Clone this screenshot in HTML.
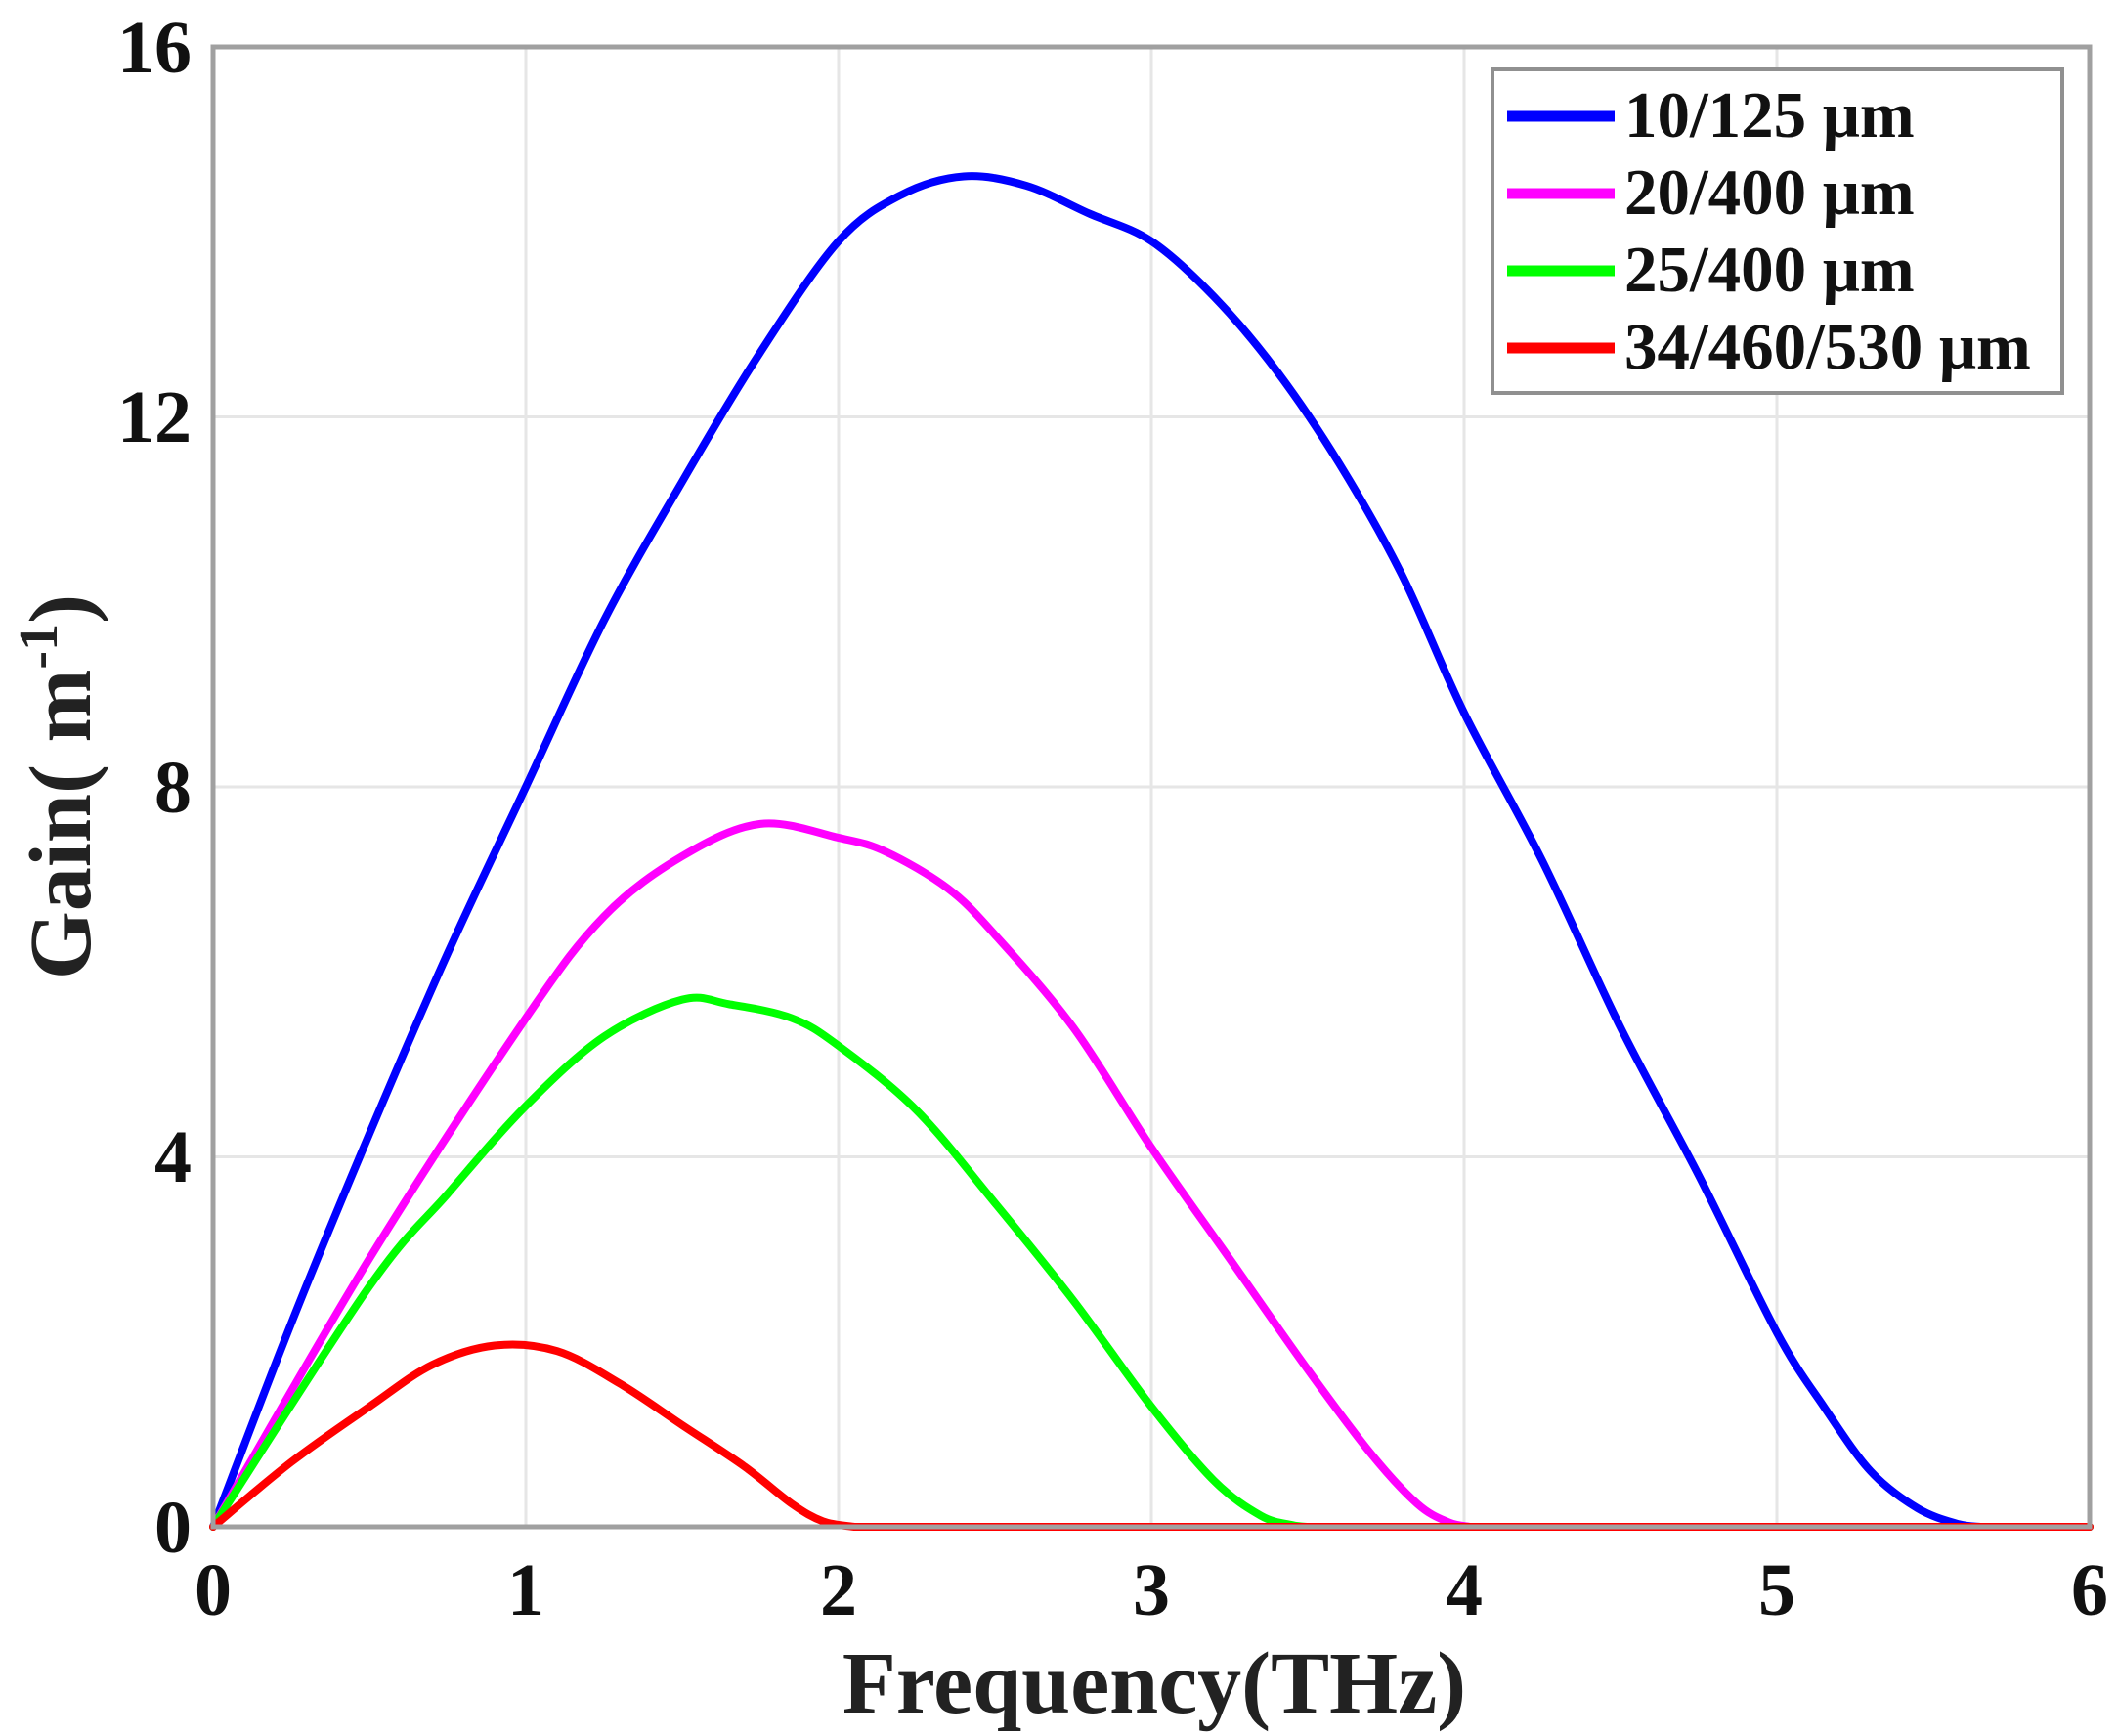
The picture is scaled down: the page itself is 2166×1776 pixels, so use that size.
<!DOCTYPE html>
<html><head><meta charset="utf-8">
<style>html,body{margin:0;padding:0;background:#fff;}svg{display:block;}</style>
</head><body>
<svg id="s" width="2166" height="1776" viewBox="0 0 2166 1776" xmlns="http://www.w3.org/2000/svg" font-family="Liberation Serif, serif">
<rect width="2166" height="1776" fill="#fff"/>
<g stroke="#e6e6e6" stroke-width="3">
<line x1="538" y1="48" x2="538" y2="1562"/><line x1="858" y1="48" x2="858" y2="1562"/>
<line x1="1178" y1="48" x2="1178" y2="1562"/><line x1="1498" y1="48" x2="1498" y2="1562"/>
<line x1="1818" y1="48" x2="1818" y2="1562"/>
<line x1="218" y1="1183.5" x2="2138" y2="1183.5"/><line x1="218" y1="805" x2="2138" y2="805"/>
<line x1="218" y1="426.5" x2="2138" y2="426.5"/>
</g>
<g id="curves" fill="none" stroke-width="8" stroke-linejoin="round" stroke-linecap="round"></g>
<rect x="218" y="48" width="1920" height="1514" fill="none" stroke="#a0a0a0" stroke-width="5"/>
<g font-size="76" font-weight="bold" fill="#111" text-anchor="end">
<text x="196" y="1588">0</text><text x="196" y="1209">4</text><text x="196" y="831">8</text>
<text x="196" y="452">12</text><text x="196" y="74">16</text>
</g>
<g font-size="76" font-weight="bold" fill="#111" text-anchor="middle">
<text x="218" y="1652">0</text><text x="538" y="1652">1</text><text x="858" y="1652">2</text>
<text x="1178" y="1652">3</text><text x="1498" y="1652">4</text><text x="1818" y="1652">5</text><text x="2138" y="1652">6</text>
</g>
<text x="1181" y="1752" font-size="90" font-weight="bold" text-anchor="middle" fill="#222">Frequency(THz)</text>
<text transform="translate(92,805) rotate(-90)" font-size="90" font-weight="bold" text-anchor="middle" fill="#222">Gain( m<tspan font-size="56" dy="-34">-1</tspan><tspan dy="34">)</tspan></text>
<rect x="1527" y="71" width="583" height="331" fill="#fff" stroke="#909090" stroke-width="4"/>
<g stroke-width="11">
<line x1="1542" y1="119" x2="1652" y2="119" stroke="#0000ff"/>
<line x1="1542" y1="198" x2="1652" y2="198" stroke="#ff00ff"/>
<line x1="1542" y1="277" x2="1652" y2="277" stroke="#00ff00"/>
<line x1="1542" y1="356" x2="1652" y2="356" stroke="#ff0000"/>
</g>
<g font-size="67" font-weight="bold" fill="#111">
<text x="1662" y="140">10/125 μm</text>
<text x="1662" y="219">20/400 μm</text>
<text x="1662" y="298">25/400 μm</text>
<text x="1662" y="377">34/460/530 μm</text>
</g>
</svg>
<script>
var X=function(x){return 218+x*320;},Y=function(y){return 1562-y*94.625;};
var series=[
["#0000ff",[[0,0],[0.25,2.2],[0.5,4.25],[0.75,6.2],[1,8],[1.25,9.8],[1.5,11.3],[1.75,12.7],[2,13.9],[2.2,14.4],[2.4,14.6],[2.6,14.5],[2.8,14.2],[3,13.9],[3.2,13.3],[3.4,12.5],[3.6,11.5],[3.8,10.3],[4,8.8],[4.25,7.2],[4.5,5.4],[4.75,3.8],[5,2.1],[5.15,1.3],[5.3,0.6],[5.45,0.2],[5.58,0.03],[5.65,0]]],
["#ff00ff",[[0,0],[0.5,2.9],[1,5.5],[1.25,6.6],[1.5,7.25],[1.75,7.6],[2,7.45],[2.15,7.3],[2.35,6.9],[2.5,6.4],[2.75,5.4],[3,4.1],[3.25,2.9],[3.5,1.7],[3.7,0.8],[3.85,0.25],[3.95,0.05],[4.02,0]]],
["#00ff00",[[0,0],[0.5,2.6],[0.75,3.6],[1,4.55],[1.25,5.3],[1.5,5.7],[1.65,5.65],[1.85,5.5],[2,5.2],[2.25,4.5],[2.5,3.5],[2.75,2.45],[3,1.3],[3.2,0.5],[3.35,0.12],[3.45,0.02],[3.5,0]]],
["#ff0000",[[0,0],[0.25,0.7],[0.5,1.3],[0.7,1.75],[0.9,1.96],[1.1,1.9],[1.3,1.55],[1.5,1.1],[1.7,0.65],[1.85,0.25],[1.95,0.06],[2.05,0]]]];
var g=document.getElementById('curves'),ns="http://www.w3.org/2000/svg";
series.forEach(function(s){
 var p=s[1].map(function(q){return [X(q[0]),Y(q[1])];});
 var d="M"+p[0][0]+","+p[0][1];
 for(var i=0;i<p.length-1;i++){
  var p0=p[Math.max(i-1,0)],p1=p[i],p2=p[i+1],p3=p[Math.min(i+2,p.length-1)];
  var c1=[p1[0]+(p2[0]-p0[0])/6,p1[1]+(p2[1]-p0[1])/6],c2=[p2[0]-(p3[0]-p1[0])/6,p2[1]-(p3[1]-p1[1])/6];
  c1[0]=Math.max(p1[0],Math.min(p2[0],c1[0]));c2[0]=Math.max(p1[0],Math.min(p2[0],c2[0]));
  c1[1]=Math.min(c1[1],1562);c2[1]=Math.min(c2[1],1562);
  d+=" C"+c1[0]+","+c1[1]+" "+c2[0]+","+c2[1]+" "+p2[0]+","+p2[1];
 }
 d+=" L2138,1562";
 var e=document.createElementNS(ns,"path");e.setAttribute("d",d);e.setAttribute("stroke",s[0]);g.appendChild(e);
});
</script>
</body></html>
